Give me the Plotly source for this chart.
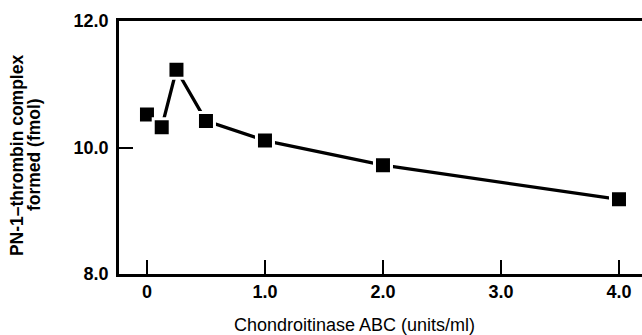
import plotly.graph_objects as go

conc = [0, 0.125, 0.25, 0.5, 1.0, 2.0, 4.0]
complex_fmol = [10.52, 10.32, 11.23, 10.42, 10.11, 9.72, 9.18]

x_tickvals = [0, 1, 2, 3, 4]
x_ticktext = ["0", "1.0", "2.0", "3.0", "4.0"]
y_tickvals = [8, 10, 12]
y_ticktext = ["8.0", "10.0", "12.0"]

fig = go.Figure()
fig.add_trace(go.Scatter(
    x=conc, y=complex_fmol, mode="lines+markers",
    line=dict(color="black", width=3.3),
    marker=dict(symbol="square", size=17, color="black",
                line=dict(color="white", width=3)),
    showlegend=False, cliponaxis=False,
))

font_family = "Liberation Sans, Arial, sans-serif"
fig.update_layout(
    width=642, height=335,
    margin=dict(l=119, r=0, t=21, b=61),
    plot_bgcolor="white", paper_bgcolor="white",
    font=dict(family=font_family, color="black"),
    xaxis=dict(
        range=[-0.237, 4.195], tickvals=x_tickvals, ticktext=x_ticktext,
        ticks="inside", ticklen=14, tickwidth=2, tickcolor="black",
        showline=True, linecolor="black", linewidth=2.5, mirror=True,
        showgrid=False, zeroline=False,
        tickfont=dict(size=18, weight="bold"),
    ),
    yaxis=dict(
        range=[8, 12], tickvals=y_tickvals, ticktext=y_ticktext,
        ticks="inside", ticklen=14, tickwidth=2, tickcolor="black",
        showline=True, linecolor="black", linewidth=2.5, mirror=False,
        showgrid=False, zeroline=False,
        tickfont=dict(size=18, weight="bold"),
        ticklabelstandoff=4,
    ),
    annotations=[
        dict(text="Chondroitinase ABC (units/ml)", xref="paper", yref="paper",
             x=0.451, y=-0.2, xanchor="center", yanchor="middle", showarrow=False,
             font=dict(size=18)),
        dict(text="PN-1\u2013thrombin complex", xref="paper", yref="paper",
             x=-0.195, y=0.47, xanchor="center", yanchor="middle", showarrow=False,
             textangle=-90, font=dict(size=17.5, weight="bold")),
        dict(text="formed (fmol)", xref="paper", yref="paper",
             x=-0.1625, y=0.47, xanchor="center", yanchor="middle", showarrow=False,
             textangle=-90, font=dict(size=17.5, weight="bold")),
    ],
)
fig.write_html("out.html")
